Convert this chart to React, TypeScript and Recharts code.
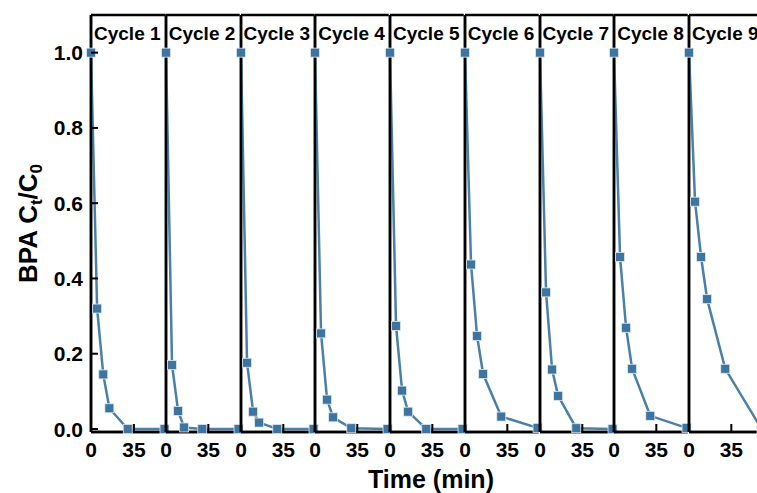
import React from "react";
import { LineChart, Line, XAxis, YAxis, ReferenceLine } from "recharts";

// sampling times (min) shared by every cycle
const times = [0, 5, 10, 15, 30, 60];

// BPA Ct/C0 per cycle
const cycle1 = [1.0, 0.32, 0.145, 0.055, 0.0, 0.0];
const cycle2 = [1.0, 0.17, 0.048, 0.004, 0.0, 0.0];
const cycle3 = [1.0, 0.176, 0.046, 0.017, 0.0, 0.0];
const cycle4 = [1.0, 0.254, 0.078, 0.031, 0.002, 0.0];
const cycle5 = [1.0, 0.274, 0.102, 0.046, 0.0, 0.0];
const cycle6 = [1.0, 0.437, 0.247, 0.146, 0.033, 0.003];
const cycle7 = [1.0, 0.363, 0.158, 0.088, 0.002, 0.0];
const cycle8 = [1.0, 0.457, 0.269, 0.16, 0.035, 0.003];
const cycle9 = [1.0, 0.604, 0.457, 0.345, 0.16, 0.0];

const cycleNames = [
  "Cycle 1",
  "Cycle 2",
  "Cycle 3",
  "Cycle 4",
  "Cycle 5",
  "Cycle 6",
  "Cycle 7",
  "Cycle 8",
  "Cycle 9",
];
const cycleValues = [cycle1, cycle2, cycle3, cycle4, cycle5, cycle6, cycle7, cycle8, cycle9];

const xTicks = [0, 35];
const yTicks = [0, 0.2, 0.4, 0.6, 0.8, 1.0];

const W = 757;
const H = 493;
const PLOT_LEFT = 91;
const PANEL = 74.75;
const TOP = 15;
const PLOT_BOTTOM = 432;
const SIDE = 14;
const Y_MIN = -0.008;
const Y_MAX = 1.1;
const FONT = '"Liberation Sans", Arial, sans-serif';
const LINE_COLOR = "#4a80a8";
const MARK_COLOR = "#3d75a0";

function XTick(props: any) {
  const { x, y, payload } = props;
  return (
    <g>
      <line x1={x} x2={x} y1={y} y2={y - 8} stroke="#000" strokeWidth={2} />
      <text
        x={x}
        y={y + 25}
        textAnchor="middle"
        fontSize={21}
        fontWeight="bold"
        fontFamily={FONT}
        fill="#000"
      >
        {payload.value}
      </text>
    </g>
  );
}

function YTick(props: any) {
  const { x, y, payload } = props;
  return (
    <g>
      <line x1={x} x2={x + 7} y1={y} y2={y} stroke="#000" strokeWidth={2} />
      <text
        x={x - 8}
        y={y}
        dy="0.36em"
        textAnchor="end"
        fontSize={21}
        fontWeight="bold"
        fontFamily={FONT}
        fill="#000"
      >
        {Number(payload.value).toFixed(1)}
      </text>
    </g>
  );
}

function SquareDot(props: any) {
  const { cx, cy, index } = props;
  if (cx == null || cy == null) return <g key={`d-${index}`} />;
  return (
    <rect
      key={`d-${index}`}
      x={cx - 4.5}
      y={cy - 4.5}
      width={9}
      height={9}
      fill={MARK_COLOR}
      stroke="#dfe9f1"
      strokeWidth={0.8}
    />
  );
}

function Panel({ i }: { i: number }) {
  const first = i === 0;
  const left = first ? 0 : PLOT_LEFT + i * PANEL - SIDE;
  const marginLeft = first ? 0 : SIDE;
  const yWidth = first ? PLOT_LEFT : 1;
  const width = marginLeft + yWidth + PANEL + SIDE - (first ? 0 : 1);
  const data = times.map((t, k) => ({ t, v: cycleValues[i][k] }));

  return (
    <div style={{ position: "absolute", left: first ? 0 : left - 1, top: 0 }}>
      <LineChart
        width={width}
        height={H}
        data={data}
        margin={{ top: TOP, right: SIDE, bottom: H - PLOT_BOTTOM - 30, left: marginLeft }}
      >
        <XAxis
          type="number"
          dataKey="t"
          domain={[0, 61]}
          ticks={xTicks}
          interval={0}
          height={30}
          stroke="#000"
          tickSize={0}
          tickMargin={0}
          tickLine={false}
          tick={<XTick />}
          axisLine={{ stroke: "#000", strokeWidth: 2.5 }}
        />
        <YAxis
          type="number"
          domain={[Y_MIN, Y_MAX]}
          ticks={yTicks}
          interval={0}
          width={yWidth}
          stroke="#000"
          tickSize={0}
          tickMargin={0}
          tickLine={false}
          tick={first ? <YTick /> : false}
          axisLine={{ stroke: "#000", strokeWidth: 2.5 }}
        />
        <ReferenceLine y={Y_MAX} stroke="#000" strokeWidth={2.5} ifOverflow="extendDomain" />
        <ReferenceLine x={0} stroke="#000" strokeWidth={2.5} ifOverflow="extendDomain" />
        <ReferenceLine y={Y_MIN} stroke="#000" strokeWidth={2.5} ifOverflow="extendDomain" />
        <Line
          type="linear"
          dataKey="v"
          stroke={LINE_COLOR}
          strokeWidth={2.5}
          dot={SquareDot}
          activeDot={false}
          isAnimationActive={false}
        />
      </LineChart>
    </div>
  );
}

export default function App() {
  const yMid = (TOP + PLOT_BOTTOM) / 2;
  return (
    <div
      style={{
        position: "absolute",
        left: 0,
        top: 0,
        width: W,
        height: H,
        overflow: "hidden",
        background: "#fff",
      }}
    >
      {cycleNames.map((_, i) => (
        <Panel key={i} i={i} />
      ))}
      <svg
        width={W}
        height={H}
        style={{ position: "absolute", left: 0, top: 0, pointerEvents: "none" }}
      >
        {cycleNames.map((name, i) => (
          <text
            key={name}
            x={PLOT_LEFT + i * PANEL + 3}
            y={39.5}
            fontSize={19}
            fontWeight="bold"
            fontFamily={FONT}
            fill="#000"
          >
            {name}
          </text>
        ))}
        <text
          x={431}
          y={488}
          textAnchor="middle"
          fontSize={25}
          fontWeight="bold"
          fontFamily={FONT}
          fill="#000"
        >
          Time (min)
        </text>
        <text
          x={37}
          y={yMid}
          transform={`rotate(-90 37 ${yMid})`}
          textAnchor="middle"
          fontSize={26}
          fontWeight="bold"
          fontFamily={FONT}
          fill="#000"
        >
          BPA C
          <tspan dy={5} fontSize={17}>
            t
          </tspan>
          <tspan dy={-5}>/C</tspan>
          <tspan dy={5} fontSize={17}>
            0
          </tspan>
        </text>
      </svg>
    </div>
  );
}
